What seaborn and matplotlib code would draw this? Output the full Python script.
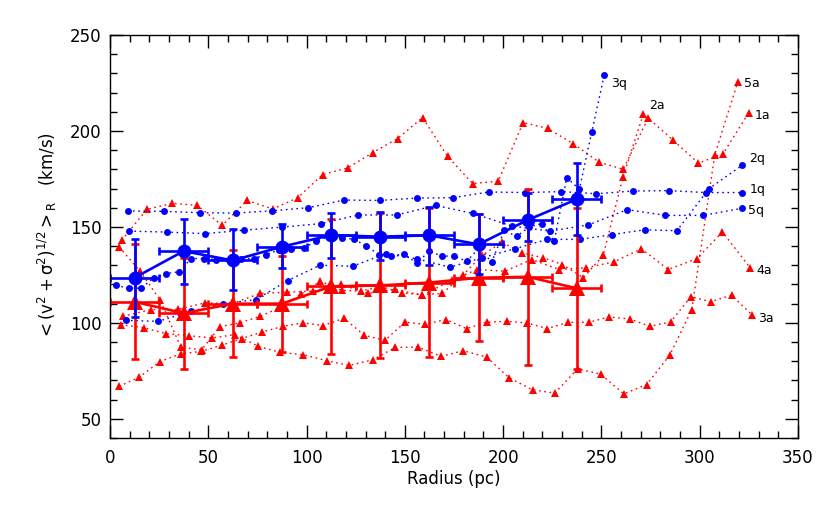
import numpy as np
import pandas as pd
import matplotlib
matplotlib.use('Agg')
import matplotlib.pyplot as plt
from matplotlib.ticker import MultipleLocator
import seaborn as sns

# ---- data ----
# blue (q) profiles
q1_r = [9, 27.5, 45.8, 64.1, 82.4, 100.9, 119, 137.3, 156, 174.3, 192.8, 211.1, 229.4, 247.5, 266.2, 284.5, 303, 321.3]
q1_v = [158.3, 158.1, 157.4, 157.2, 158.4, 160, 164, 163.8, 165, 165.2, 168.2, 167.9, 168.4, 167.3, 168.7, 168.9, 167.9, 167.9]

q2_r = [8, 24.6, 41.2, 57.6, 74.1, 90.4, 106.8, 123.4, 140.2, 156, 173, 189.5, 206, 222.4, 239, 255.5, 272, 288.4, 304.8, 321.5]
q2_v = [101.3, 100.8, 106, 110, 112.1, 122, 130, 129.5, 136, 133.4, 129, 134, 138.6, 143.5, 143.5, 146, 148.5, 148, 170, 182]

q3_r = [3.1, 9.5, 15.8, 22.2, 28.6, 35.0, 41.3, 47.7, 54.1, 60.4, 66.8, 73.2, 79.5, 85.9, 92.3, 98.7,
        105.0, 111.4, 117.8, 124.2, 130.5, 136.9, 143.2, 149.6, 156.0, 162.4, 168.7, 175.1, 181.5, 187.8,
        194.2, 200.6, 206.9, 213.3, 219.7, 226.0, 232.4, 238.8, 245.1, 251.5]
q3_v = [119.5, 118.1, 118.1, 123.3, 125.7, 126.6, 133.5, 133.5, 133.0, 132.5, 133.5, 133.4, 135.6, 138.0, 138.6, 139.1,
        142.6, 145.0, 144.4, 143.5, 140.0, 135.6, 134.8, 136.0, 131.0, 137.4, 134.8, 134.8, 132.1, 139.0,
        131.6, 148.2, 145.0, 150.0, 151.7, 142.6, 175.7, 169.6, 199.5, 229.3]

q5_r = [9.7, 29.1, 48.3, 68.3, 87.6, 107.2, 126.3, 145.8, 165.7, 184.8, 204.6, 223.8, 243.3, 263.1, 282.6, 301.8, 321.5]
q5_v = [147.8, 147.3, 146.5, 148.3, 149.9, 151.7, 156.2, 156.2, 161.2, 157, 150.4, 147.8, 151, 159, 156, 156, 159.7]

# red (a) profiles
a1_r = [6, 18.7, 31.7, 44.4, 57.1, 69.8, 82.8, 95.5, 108.2, 120.9, 133.6, 146.3, 159, 171.8, 184.5, 197.5,
        210.2, 222.6, 235.7, 248.7, 261.1, 273.8, 286.5, 299.4, 312, 325]
a1_v = [143, 159.1, 162.3, 161.2, 150.8, 163.8, 159.3, 165.2, 177.3, 180.7, 188.7, 196, 207, 186.7, 172.6, 173.8,
        204.4, 201.3, 193.4, 183.8, 180, 206.7, 195.2, 183.2, 188.2, 209.6]

a2_r = [4.7, 15.3, 25.4, 36.1, 46.6, 56, 66.1, 76.3, 86.7, 97, 107.1, 117.8, 127.5, 138, 148.4, 158.5, 169,
        179.4, 189.4, 199.5, 209.7, 220.4, 230.2, 240.8, 250.9, 261, 271.3]
a2_v = [139.5, 126.9, 112.1, 87.2, 86, 98, 100, 103.4, 108, 114.8, 121.7, 117, 116.5, 119, 115.6, 114.7, 115.3,
        124.7, 135.3, 142, 136.5, 133.9, 130.4, 123.5, 135.1, 176, 208.7]

a3_r = [4.7, 15, 25.4, 36.1, 46.3, 56.8, 67, 77.5, 88.1, 98.3, 108.5, 119, 129.4, 139.9, 150, 160.2, 170.9,
        181.4, 191.6, 201.8, 212, 222.4, 233.1, 243.6, 254, 264.5, 274.7, 285.2, 295.5, 305.7, 316.2, 326.6]
a3_v = [66.9, 71.8, 79.8, 83.9, 85.1, 88.3, 91.8, 95.3, 98.2, 100, 98.6, 102.4, 93.5, 90.9, 100.3, 99.3, 101.7,
        97, 100.3, 100.8, 100, 97, 100.3, 100.3, 103.1, 102, 98.2, 100.5, 113.6, 111, 114.4, 104.2]

a4_r = [6.5, 20.7, 34.5, 48.3, 62.1, 76.3, 89.9, 103.4, 117.5, 131.4, 145, 158.9, 173.8, 186.8, 200.9, 214.5,
        228.6, 242.4, 256.4, 270.4, 284, 298.4, 311.6, 325.7]
a4_v = [103.4, 106.9, 107, 110.4, 110, 115.3, 116, 116.5, 120, 115.3, 117.4, 114.4, 122.2, 127.8, 126.9, 133,
        127.8, 128.7, 131.8, 138.6, 127.8, 133.4, 147.3, 128.7]

a5_r = [5.4, 17.3, 28.5, 40.3, 52, 63.6, 75.4, 86.5, 98.3, 110.2, 121.7, 134, 145, 156.8, 168.4, 179.7, 191.6,
        203.1, 215, 226.3, 237.9, 249.6, 261.4, 273, 284.9, 296, 307.7, 319.4]
a5_v = [99.1, 97.4, 94.4, 93.3, 92.1, 93.9, 87.8, 84.6, 83.4, 80.3, 77.8, 80.8, 87.2, 87.4, 82.5, 85.5, 82.2,
        71.3, 65.1, 63.4, 76, 73.3, 63, 67.8, 83.4, 106.9, 187.7, 225.6]

# binned means
bin_r = [12.5, 37.5, 62.5, 87.5, 112.5, 137.5, 162.5, 187.5, 212.5, 237.5]
bin_rerr = [12.5, 12.5, 12.5, 12.5, 12.5, 12.5, 12.5, 12.5, 12.5, 12.5]
q_mean = [123.5, 137.4, 132.5, 139.7, 145.7, 144.9, 145.6, 140.9, 153.6, 164.4]
q_err_lo = [20.5, 17.4, 15.5, 11, 11.8, 12.4, 15.7, 15.7, 11, 18.8]
q_err_hi = [20, 16.5, 16.2, 12, 11.7, 12.8, 14.8, 15.6, 14.3, 19.1]
a_mean = [111, 105, 110, 110, 119, 119.5, 121, 123.5, 124, 118]
a_err = [30, 29, 28, 25, 35, 38, 39, 33, 46, 42]

BLUE = '#0000ff'
RED = '#ff0000'

sns.set_theme(style='ticks')
plt.rcParams['font.family'] = ['DejaVu Sans']
plt.rcParams['mathtext.default'] = 'regular'
plt.rcParams['axes.linewidth'] = 1.0
plt.rcParams['text.color'] = 'black'
plt.rcParams['axes.labelcolor'] = 'black'
plt.rcParams['xtick.color'] = 'black'
plt.rcParams['ytick.color'] = 'black'
plt.rcParams['axes.edgecolor'] = 'black'

fig, ax = plt.subplots(figsize=(8.3, 5.08), dpi=100)
fig.subplots_adjust(left=0.1325, right=0.9614, bottom=0.1378, top=0.9311)

dots = (0, (1.2, 2.6))

# dotted individual profiles
red_series = [('1a', a1_r, a1_v, (4.5, -2)), ('2a', a2_r, a2_v, (4.5, 6)),
              ('3a', a3_r, a3_v, (4.5, -3)), ('4a', a4_r, a4_v, (4.5, -2)),
              ('5a', a5_r, a5_v, (4.5, -1.5))]
blue_series = [('1q', q1_r, q1_v, (6, 2)), ('2q', q2_r, q2_v, (5, 5)),
               ('3q', q3_r, q3_v, (4.5, -6.5)), ('5q', q5_r, q5_v, (4.5, -1.5))]

for name, r, v, off in red_series:
    d = pd.DataFrame({'r': r, 'v': v})
    sns.lineplot(data=d, x='r', y='v', sort=False, estimator=None, ax=ax, color=RED,
                 linestyle=dots, linewidth=1.0, marker='^', markersize=6,
                 markeredgewidth=0, markeredgecolor=RED)
    ax.annotate(name, (r[-1], v[-1]), xytext=off, textcoords='offset points',
                fontsize=9, ha='left', va='center', color='black')

for name, r, v, off in blue_series:
    d = pd.DataFrame({'r': r, 'v': v})
    sns.lineplot(data=d, x='r', y='v', sort=False, estimator=None, ax=ax, color=BLUE,
                 linestyle=dots, linewidth=1.0, marker='o', markersize=5,
                 markeredgewidth=0, markeredgecolor=BLUE)
    ax.annotate(name, (r[-1], v[-1]), xytext=off, textcoords='offset points',
                fontsize=9, ha='left', va='center', color='black')

# binned means with error bars
ax.errorbar(bin_r, a_mean, xerr=bin_rerr, yerr=a_err, fmt='none', ecolor=RED,
            elinewidth=1.9, capsize=3, capthick=1.9)
sns.lineplot(x=bin_r, y=a_mean, sort=False, estimator=None, ax=ax, color=RED,
             linewidth=1.9, marker='^', markersize=11, markeredgewidth=0, markeredgecolor=RED)

ax.errorbar(bin_r, q_mean, xerr=bin_rerr, yerr=[q_err_lo, q_err_hi], fmt='none', ecolor=BLUE,
            elinewidth=1.9, capsize=3, capthick=1.9)
sns.lineplot(x=bin_r, y=q_mean, sort=False, estimator=None, ax=ax, color=BLUE,
             linewidth=1.9, marker='o', markersize=10, markeredgewidth=0, markeredgecolor=BLUE)

ax.set_xlim(0, 350)
ax.set_ylim(40, 250)
ax.xaxis.set_major_locator(MultipleLocator(50))
ax.xaxis.set_minor_locator(MultipleLocator(10))
ax.yaxis.set_major_locator(MultipleLocator(50))
ax.yaxis.set_minor_locator(MultipleLocator(10))
ax.tick_params(which='both', direction='in', top=True, right=True, colors='black', width=1.0)
ax.tick_params(which='major', length=9.5, labelsize=12)
ax.tick_params(axis='x', which='major', pad=8)
ax.tick_params(axis='y', which='major', pad=6)
ax.tick_params(which='minor', length=5)
for s in ax.spines.values():
    s.set_color('black')

ax.set_xlabel('Radius (pc)', fontsize=12, labelpad=2, color='black')
ax.set_ylabel(r'$<(v^2+\sigma^2)^{1/2}>_R$   (km/s)', fontsize=12, labelpad=8, color='black')

fig.savefig('out.png', dpi=100)
